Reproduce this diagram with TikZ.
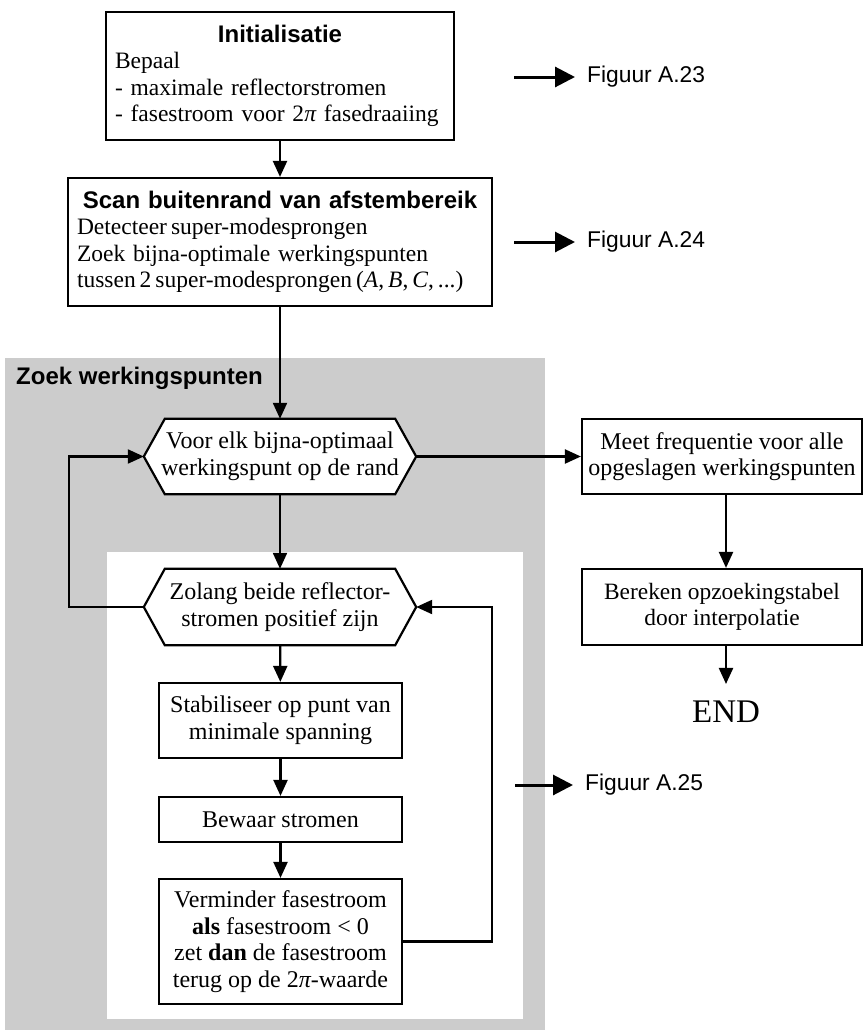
\documentclass[tikz,border=0pt]{standalone}
\usepackage{fontspec}
\setmainfont{Liberation Serif}
\setsansfont{Liberation Sans}
\usetikzlibrary{arrows.meta,backgrounds}
\newcommand\bodyf{\fontsize{24}{26.5}\selectfont}
\newcommand\scanf{\fontsize{23.5}{26.5}\selectfont}
\newcommand\smallbodyf{\fontsize{23.4}{25.5}\selectfont}
\newcommand\titf{\fontsize{24}{26.5}\selectfont\sffamily\bfseries}
\newcommand\figf{\fontsize{22.8}{26}\selectfont\sffamily}
\newcommand\tightline[1]{\mbox{\spaceskip=0.17em\relax #1}}
\begin{document}
\begin{tikzpicture}[x=1pt,y=-1pt,
 box/.style={draw, line width=2.2pt, fill=white, inner sep=0pt, font=\bodyf, align=center},
 hexn/.style={inner sep=0pt, font=\bodyf, align=center, minimum width=272pt},
 hexline/.style={draw, line width=2.2pt, fill=white, line join=miter},
 arr/.style={line width=2.2pt, -{Triangle[length=16pt,width=14pt]}},
 figarr/.style={line width=3pt, -{Triangle[length=20pt,width=20pt]}},
 figtxt/.style={font=\figf, anchor=west, inner sep=0pt},
 regionlabel/.style={font=\titf, anchor=west, inner sep=0pt}]
\useasboundingbox (0,0) rectangle (864,1033);

% top boxes
\node[box, font=\scanf, minimum width=348pt, minimum height=128pt, text width=330pt, align=left] (init) at (280,76)
 {\makebox[\linewidth]{\titf Initialisatie}\\ \mbox{Bepaal}\\ \mbox{- maximale reflectorstromen}\\ \mbox{- fasestroom voor 2{\itshape π} fasedraaiing}};
\node[box, font=\scanf, minimum width=424pt, minimum height=128pt, text width=406pt, align=left] (scan) at (280,242)
 {\makebox[\linewidth]{\titf Scan buitenrand van afstembereik}\\ \tightline{Detecteer super-modesprongen}\\
  \makebox[\linewidth][s]{Zoek bijna-optimale werkingspunten}\\ \tightline{tussen 2 super-modesprongen (\textit{A}, \textit{B}, \textit{C}, ...)}};

% loop region
\node[regionlabel] (zw) at (16,378) {Zoek werkingspunten};
\node[hexn, minimum height=75pt] (hex1) at (280,456.5) {Voor elk bijna-optimaal\\werkingspunt op de rand};
\node[hexn, minimum height=76pt] (hex2) at (280,607) {Zolang beide reflector-\\stromen positief zijn};
\node[box, minimum width=243pt, minimum height=75pt] (stab) at (280.5,720.5) {Stabiliseer op punt van\\minimale spanning};
\node[box, minimum width=243pt, minimum height=45pt] (bew) at (280.5,819.5) {Bewaar stromen};
\node[box, minimum width=243pt, minimum height=125pt] (verm) at (280.5,941.5)
 {Verminder fasestroom\\ \textbf{als} fasestroom < 0\\ zet \textbf{dan} de fasestroom\\ terug op de 2{\itshape π}-waarde};

% right column
\node[box, minimum width=280pt, minimum height=75pt] (meet) at (722,456.5) {Meet frequentie voor alle\\opgeslagen werkingspunten};
\node[box, font=\smallbodyf, minimum width=280pt, minimum height=76pt] (ber) at (722,607) {Bereken opzoekingstabel\\door interpolatie};
\node[font=\fontsize{33}{36}\selectfont, inner sep=0pt] (end) at (726,712) {END};

% figure references
\coordinate (f23s) at (514,77);
\node[figtxt] (f23) at (587,77) {Figuur A.23};
\coordinate (f24s) at (514,242);
\node[figtxt] (f24) at (587,242) {Figuur A.24};
\coordinate (f25s) at (515,785);
\node[figtxt] (f25) at (585,785) {Figuur A.25};
\draw[figarr, shorten >=12pt] (f23s) -- (f23.west);
\draw[figarr, shorten >=12pt] (f24s) -- (f24.west);
\draw[figarr, shorten >=12pt] (f25s) -- (f25.west);

% backgrounds and hexagon outlines
\begin{scope}[on background layer]
\fill[black!20] (5,358) rectangle (545,1030);
\fill[white] (107,552) rectangle (523,1019);
\draw[hexline] (hex1.west) -- ([xshift=21pt]hex1.north west) -- ([xshift=-21pt]hex1.north east)
  -- (hex1.east) -- ([xshift=-21pt]hex1.south east) -- ([xshift=21pt]hex1.south west) -- cycle;
\draw[hexline] (hex2.west) -- ([xshift=21pt]hex2.north west) -- ([xshift=-21pt]hex2.north east)
  -- (hex2.east) -- ([xshift=-21pt]hex2.south east) -- ([xshift=21pt]hex2.south west) -- cycle;
\end{scope}

% connectors
\coordinate (lp) at (69,456.5);
\coordinate (rp) at (492,607);
\draw[arr] (init) -- (scan);
\draw[arr] (scan) -- (hex1);
\draw[arr] (hex1) -- (hex2);
\draw[arr] (hex1.east) -- (meet.west);
\draw[arr] (meet.south -| end) -- (ber.north -| end);
\draw[arr, shorten >=17pt] (ber.south -| end) -- (end.north);
\draw[arr] (hex2) -- (stab);
\draw[arr] (stab) -- (bew);
\draw[arr] (bew) -- (verm);
\draw[arr] (hex2.west) -| (lp) -- (hex1.west);
\draw[arr] (verm.east) -| (rp) -- (hex2.east);
\end{tikzpicture}
\end{document}
